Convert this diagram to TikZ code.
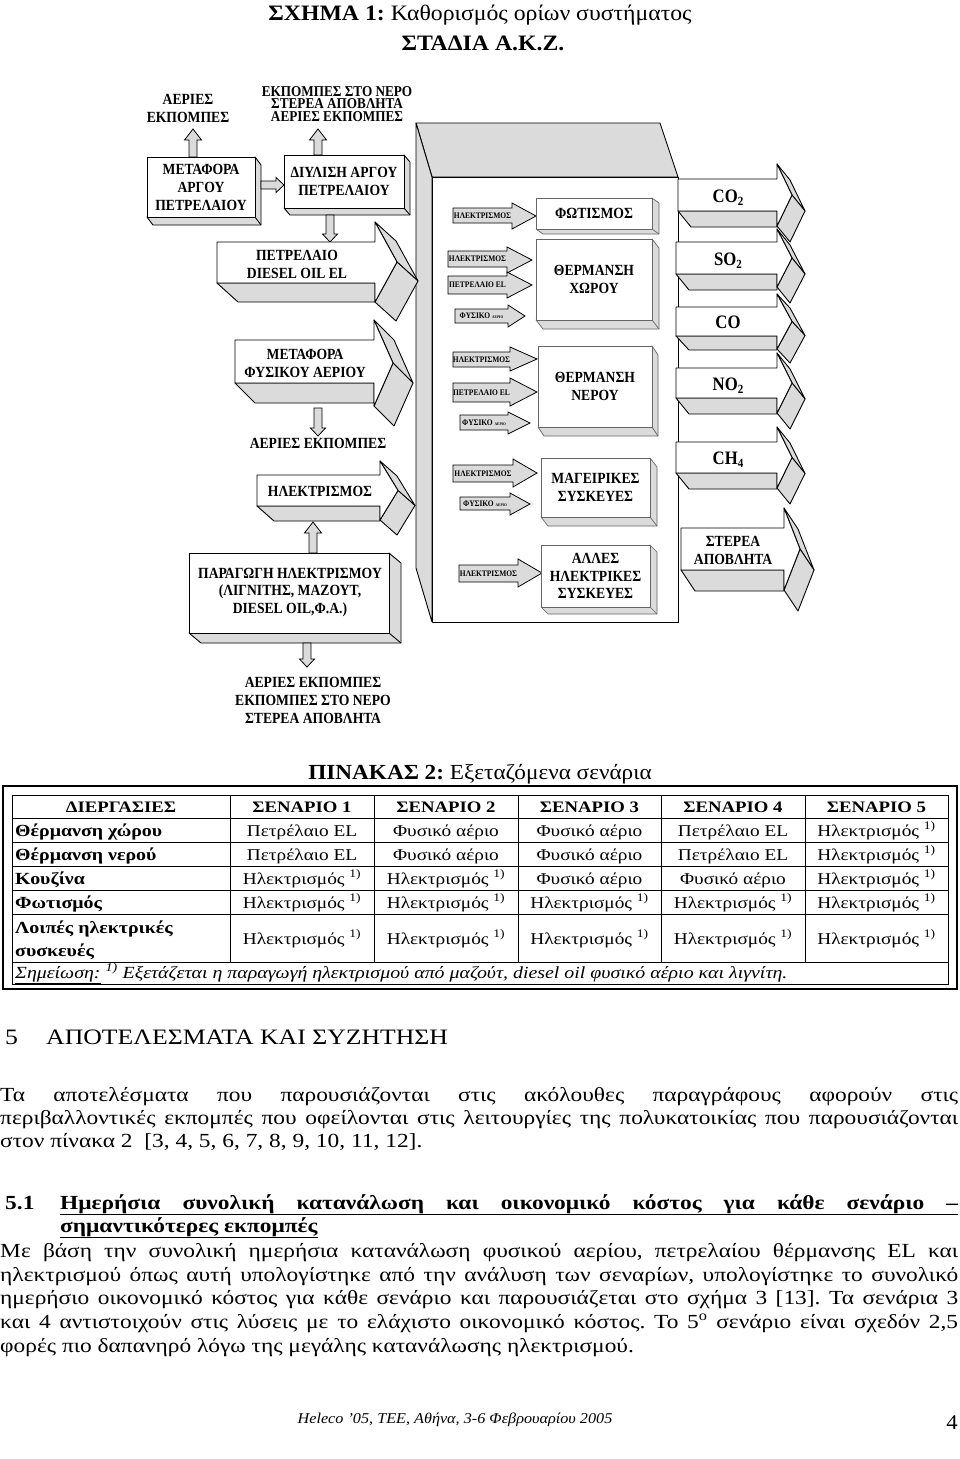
\documentclass[tikz,border=0pt]{standalone}
\usepackage{fontspec}
\setmainfont{Liberation Serif}[FakeStretch=1.08]
\newfontfamily\dgf{Liberation Serif}[FakeStretch=0.88]
\newfontfamily\bodyfam{Liberation Serif}[FakeStretch=1.17]
\frenchspacing
\tikzset{
  sideface/.style={fill=black!14, draw=black, line width=0.9pt, line join=round},
  frontface/.style={fill=white, draw=black, line width=0.9pt, line join=round},
  inface/.style={fill=white, draw=black!60, line width=0.7pt, line join=round},
  insideface/.style={fill=black!14, draw=black!60, line width=0.7pt, line join=round},
  flatarr/.style={fill=black!14, draw=black, line width=0.8pt, line join=miter},
  dlbl/.style={inner sep=0pt, align=center, font=\dgf\bfseries\fontsize{15.5}{18}\selectfont},
  tlbl/.style={inner sep=0pt, font=\dgf\bfseries\fontsize{8.5}{9}\selectfont},
  gas/.style={inner sep=0pt, anchor=base, font=\dgf\bfseries\fontsize{19}{20}\selectfont},
  tline/.style={line width=0.7pt},
  cellf/.style={inner sep=0pt, anchor=base, font=\bodyfam\fontsize{16.5}{19}\selectfont},
  headf/.style={inner sep=0pt, anchor=base, font=\bodyfam\bfseries\fontsize{16}{19}\selectfont},
  rowf/.style={inner sep=0pt, anchor=base west, font=\bodyfam\bfseries\fontsize{17}{19}\selectfont},
  bodyf/.style={inner sep=0pt, anchor=base west, font=\bodyfam\fontsize{20}{23}\selectfont},
  bodyb/.style={inner sep=0pt, anchor=base west, font=\bodyfam\bfseries\fontsize{20}{23}\selectfont},
}
\newcommand\tdbox[8]{%
  \filldraw[#8] (#3,#2) -- ({#3+#5},{#2+#6}) -- ({#3+#5},{#4+#6}) -- ({#1+#5},{#4+#6}) -- (#1,#4) -- (#3,#4) -- cycle;
  \draw[#8] (#3,#4) -- ({#3+#5},{#4+#6});
  \filldraw[#7] (#1,#2) rectangle (#3,#4);}
\newcommand\bigarrow[9]{%
  \pgfmathsetmacro\yc{(#5+#6)/2}%
  \filldraw[sideface] (#1,#3) -- (#4,#3) -- (#4,{#3+#9}) -- ({#1+#8},{#3+#9}) -- cycle;
  \filldraw[sideface] (#4,#5) -- (#7,\yc) -- ({#7+#8},{\yc+#9}) -- ({#4+#8},{#5+#9}) -- cycle;
  \filldraw[sideface] (#7,\yc) -- (#4,#6) -- ({#4+#8},{#6+#9}) -- ({#7+#8},{\yc+#9}) -- cycle;
  \filldraw[frontface] (#1,#2) -- (#4,#2) -- (#4,#5) -- (#7,\yc) -- (#4,#6) -- (#4,#3) -- (#1,#3) -- cycle;}
\newcommand\flatarrow[7]{%
  \filldraw[flatarr] (#1,#2) -- (#4,#2) -- (#4,#5) -- (#7,{(#5+#6)/2}) -- (#4,#6) -- (#4,#3) -- (#1,#3) -- cycle;}
\newcommand\uparr[3]{%
  \filldraw[flatarr] ({#1-4},#2) -- ({#1-4},{#3+11}) -- ({#1-8.5},{#3+11}) -- (#1,#3) -- ({#1+8.5},{#3+11}) -- ({#1+4},{#3+11}) -- ({#1+4},#2) -- cycle;}
\newcommand\downarr[3]{%
  \filldraw[flatarr] ({#1-4},#2) -- ({#1-4},{#3-8}) -- ({#1-7.5},{#3-8}) -- (#1,#3) -- ({#1+7.5},{#3-8}) -- ({#1+4},{#3-8}) -- ({#1+4},#2) -- cycle;}
\newcommand\rightarr[3]{%
  \filldraw[flatarr] (#2,{#1-4}) -- ({#3-8},{#1-4}) -- ({#3-8},{#1-7.5}) -- (#3,#1) -- ({#3-8},{#1+7.5}) -- ({#3-8},{#1+4}) -- (#2,{#1+4}) -- cycle;}
\newcommand\elec{Ηλεκτρισμός \textsuperscript{1)}}
\newcommand\petr{Πετρέλαιο EL}
\newcommand\fys{Φυσικό αέριο}
\newcommand\fysiko{ΦΥΣΙΚΟ {\fontsize{4}{4}\selectfont ΑΕΡΙΟ}}
\newcommand\gsub[1]{\raisebox{-3.5pt}{\fontsize{12.5}{12.5}\selectfont #1}}
\begin{document}
\begin{tikzpicture}[x=1pt,y=-1pt]
\useasboundingbox[fill=white] (0,0) rectangle (960,1459);

% ---------- titles
\node[inner sep=0pt, anchor=base, font=\fontsize{22}{24}\selectfont] (title) at (480,20) {\textbf{ΣΧΗΜΑ 1:} Καθορισμός ορίων συστήματος};
\node[inner sep=0pt, anchor=base, font=\bfseries\fontsize{22}{24}\selectfont] (title2) at (483,50) {ΣΤΑΔΙΑ Α.Κ.Ζ.};

% ---------- central frame
\filldraw[sideface] (416,123) -- (660,123) -- (678,177) -- (432,177) -- cycle;
\filldraw[sideface] (416,123) -- (432,177) -- (432,622) -- (416,568) -- cycle;
\filldraw[frontface] (432,177) rectangle (678,622);

% ---------- top-left boxes
\node[dlbl] (ae1) at (188,108) {ΑΕΡΙΕΣ\\ΕΚΠΟΜΠΕΣ};
\node[dlbl, font=\dgf\bfseries\fontsize{15}{12.5}\selectfont] (ek1) at (337,104) {ΕΚΠΟΜΠΕΣ ΣΤΟ ΝΕΡΟ\\ΣΤΕΡΕΑ ΑΠΟΒΛΗΤΑ\\ΑΕΡΙΕΣ ΕΚΠΟΜΠΕΣ};
\uparr{193}{157}{129}
\uparr{318}{155}{129}
\tdbox{147}{157}{255}{217}{6}{8}{frontface}{sideface}
\node[dlbl] (metargou) at (201,187) {ΜΕΤΑΦΟΡΑ\\ΑΡΓΟΥ\\ΠΕΤΡΕΛΑΙΟΥ};
\rightarr{185}{261}{284}
\tdbox{284}{155}{404}{208}{6}{7}{frontface}{sideface}
\node[dlbl] (diylisi) at (344,181) {ΔΙΥΛΙΣΗ ΑΡΓΟΥ\\ΠΕΤΡΕΛΑΙΟΥ};
\downarr{330}{215}{242}

% ---------- left big arrows
\bigarrow{217}{242}{283}{375}{222}{302}{397}{21}{19}
\node[dlbl] (petrelaio) at (297,264) {ΠΕΤΡΕΛΑΙΟ\\DIESEL OIL EL};
\bigarrow{235}{340}{383}{374}{320}{406}{393}{20}{20}
\node[dlbl] (metfys) at (305,363.5) {ΜΕΤΑΦΟΡΑ\\ΦΥΣΙΚΟΥ ΑΕΡΙΟΥ};
\downarr{318}{408}{436}
\node[dlbl] (ae2) at (318,443) {ΑΕΡΙΕΣ ΕΚΠΟΜΠΕΣ};
\bigarrow{257}{475}{506}{380}{461}{520}{398}{17}{15}
\node[dlbl] (ilektr) at (320,491) {ΗΛΕΚΤΡΙΣΜΟΣ};
\uparr{313}{553}{522}
\tdbox{189}{553}{389}{633}{12}{10}{frontface}{sideface}
\node[dlbl, font=\dgf\bfseries\fontsize{15.5}{17.5}\selectfont] (paragogi) at (290,592.5) {ΠΑΡΑΓΩΓΗ ΗΛΕΚΤΡΙΣΜΟΥ\\(ΛΙΓΝΙΤΗΣ, ΜΑΖΟΥΤ,\\DIESEL OIL,Φ.Α.)};
\downarr{307}{643}{667}
\node[dlbl] (ae3) at (313,700) {ΑΕΡΙΕΣ ΕΚΠΟΜΠΕΣ\\ΕΚΠΟΜΠΕΣ ΣΤΟ ΝΕΡΟ\\ΣΤΕΡΕΑ ΑΠΟΒΛΗΤΑ};

% ---------- inside the frame
\flatarrow{453}{208}{223}{512}{203}{229}{536}
\node[tlbl] (a1) at (482.5,215.5) {ΗΛΕΚΤΡΙΣΜΟΣ};
\tdbox{536}{198}{652}{229}{7}{5}{inface}{insideface}
\node[dlbl] (fotismos) at (594,213.5) {ΦΩΤΙΣΜΟΣ};

\flatarrow{448}{251}{267}{507}{247}{273}{532}
\node[tlbl] (a2) at (477.5,259) {ΗΛΕΚΤΡΙΣΜΟΣ};
\flatarrow{448}{276}{294}{507}{272}{298}{532}
\node[tlbl] (a3) at (477.5,285) {ΠΕΤΡΕΛΑΙΟ EL};
\flatarrow{455}{309}{323}{508}{305}{327}{525}
\node[tlbl] (a4) at (481.5,316) {\fysiko};
\tdbox{536}{239}{652}{320}{7}{9}{inface}{insideface}
\node[dlbl] (thxorou) at (594,279.5) {ΘΕΡΜΑΝΣΗ\\ΧΩΡΟΥ};

\flatarrow{453}{352}{367}{510}{347}{371}{537}
\node[tlbl] (a5) at (481.5,359.5) {ΗΛΕΚΤΡΙΣΜΟΣ};
\flatarrow{453}{383}{402}{510}{378}{406}{537}
\node[tlbl] (a6) at (481.5,392.5) {ΠΕΤΡΕΛΑΙΟ EL};
\flatarrow{460}{415}{430}{508}{412}{434}{530}
\node[tlbl] (a7) at (484,422.5) {\fysiko};
\tdbox{538}{346}{652}{427}{6}{9}{inface}{insideface}
\node[dlbl] (thnerou) at (595,386.5) {ΘΕΡΜΑΝΣΗ\\ΝΕΡΟΥ};

\flatarrow{453}{465}{482}{513}{459}{487}{537}
\node[tlbl] (a8) at (483,473.5) {ΗΛΕΚΤΡΙΣΜΟΣ};
\flatarrow{460}{497}{510}{510}{493}{515}{530}
\node[tlbl] (a9) at (485,503.5) {\fysiko};
\tdbox{541}{458}{650}{517}{7}{9}{inface}{insideface}
\node[dlbl] (mageir) at (595.5,487.5) {ΜΑΓΕΙΡΙΚΕΣ\\ΣΥΣΚΕΥΕΣ};

\flatarrow{459}{565}{582}{518}{559}{587}{542}
\node[tlbl] (a10) at (488.5,573.5) {ΗΛΕΚΤΡΙΣΜΟΣ};
\tdbox{541}{545}{650}{607}{7}{7}{inface}{insideface}
\node[dlbl, font=\dgf\bfseries\fontsize{15.5}{17.5}\selectfont] (alles) at (595.5,576) {ΑΛΛΕΣ\\ΗΛΕΚΤΡΙΚΕΣ\\ΣΥΣΚΕΥΕΣ};

% ---------- right arrows
\bigarrow{678}{179}{211}{777}{164}{226}{792}{13}{16}
\node[gas] (co2) at (728,202) {CO\gsub{2}};
\bigarrow{676}{242}{274}{777}{229}{287}{792}{13}{16}
\node[gas] (so2) at (728,265) {SO\gsub{2}};
\bigarrow{676}{307}{336}{777}{294}{349}{792}{13}{14}
\node[gas] (co) at (728,328) {CO};
\bigarrow{676}{368}{398}{777}{353}{413}{792}{13}{16}
\node[gas] (no2) at (728,390) {NO\gsub{2}};
\bigarrow{676}{442}{473}{777}{427}{488}{792}{13}{16}
\node[gas] (ch4) at (728,464) {CH\gsub{4}};
\bigarrow{681}{528}{570}{784}{508}{590}{800}{14}{21}
\node[dlbl] (sterea) at (733,550.5) {ΣΤΕΡΕΑ\\ΑΠΟΒΛΗΤΑ};

% ---------- table
\node[inner sep=0pt, anchor=base, font=\fontsize{21.5}{24}\selectfont] (ttitle) at (480,779) {\textbf{ΠΙΝΑΚΑΣ 2:} Εξεταζόμενα σενάρια};
\draw[line width=2.2pt] (3,786) rectangle (957,989);
\draw[tline] (12,795) rectangle (948,984);
\foreach \y in {818,842,866,890,914,962} \draw[tline] (12,\y) -- (948,\y);
\foreach \x in {230,374,518,661,805} \draw[tline] (\x,795) -- (\x,962);
\node[headf] (h0) at (121,812) {ΔΙΕΡΓΑΣΙΕΣ};
\foreach \x [count=\i] in {302,446,589.5,733,876.5} \node[headf] (h\i) at (\x,812) {ΣΕΝΑΡΙΟ \i};
\node[rowf] (r1) at (15,836) {Θέρμανση χώρου};
\node[rowf] (r2) at (15,860) {Θέρμανση νερού};
\node[rowf] (r3) at (15,884) {Κουζίνα};
\node[rowf] (r4) at (15,908) {Φωτισμός};
\node[rowf] (r5a) at (15,933) {Λοιπές ηλεκτρικές};
\node[rowf] (r5b) at (15,956) {συσκευές};
\foreach \x/\t [count=\i] in {302/\petr,446/\fys,589.5/\fys,733/\petr,876.5/\elec} \node[cellf] (ca\i) at (\x,836) {\t};
\foreach \x/\t [count=\i] in {302/\petr,446/\fys,589.5/\fys,733/\petr,876.5/\elec} \node[cellf] (cb\i) at (\x,860) {\t};
\foreach \x/\t [count=\i] in {302/\elec,446/\elec,589.5/\fys,733/\fys,876.5/\elec} \node[cellf] (cc\i) at (\x,884) {\t};
\foreach \x [count=\i] in {302,446,589.5,733,876.5} \node[cellf] (cd\i) at (\x,908) {\elec};
\foreach \x [count=\i] in {302,446,589.5,733,876.5} \node[cellf] (ce\i) at (\x,944) {\elec};
\node[inner sep=0pt, anchor=base west, font=\bodyfam\itshape\fontsize{17}{19}\selectfont] (note) at (15,978) {\underline{Σημείωση:} \textsuperscript{1)} Εξετάζεται η παραγωγή ηλεκτρισμού από μαζούτ, diesel oil φυσικό αέριο και λιγνίτη.};

% ---------- text
\node[bodyf, font=\bodyfam\fontsize{22}{26}\selectfont] (s5n) at (5,1044) {5};
\node[bodyf, font=\bodyfam\fontsize{22}{26}\selectfont] (s5t) at (46,1044) {ΑΠΟΤΕΛΕΣΜΑΤΑ ΚΑΙ ΣΥΖΗΤΗΣΗ};
\node[bodyf] (p1a) at (0,1101) {\makebox[958pt][s]{Τα αποτελέσματα που παρουσιάζονται στις ακόλουθες παραγράφους αφορούν στις}};
\node[bodyf] (p1b) at (0,1124) {\makebox[958pt][s]{περιβαλλοντικές εκπομπές που οφείλονται στις λειτουργίες της πολυκατοικίας που παρουσιάζονται}};
\node[bodyf] (p1c) at (0,1147) {στον πίνακα 2\ \ [3, 4, 5, 6, 7, 8, 9, 10, 11, 12].};
\node[bodyb] (s51n) at (5,1209) {5.1};
\node[bodyb] (s51a) at (60,1209) {\underline{\makebox[898pt][s]{Ημερήσια συνολική κατανάλωση και οικονομικό κόστος για κάθε σενάριο –}}};
\node[bodyb] (s51b) at (60,1232) {\underline{σημαντικότερες εκπομπές}};
\node[bodyf] (p2a) at (0,1257) {\makebox[958pt][s]{Με βάση την συνολική ημερήσια κατανάλωση φυσικού αερίου, πετρελαίου θέρμανσης EL και}};
\node[bodyf] (p2b) at (0,1281) {\makebox[958pt][s]{ηλεκτρισμού όπως αυτή υπολογίστηκε από την ανάλυση των σεναρίων, υπολογίστηκε το συνολικό}};
\node[bodyf] (p2c) at (0,1304) {\makebox[958pt][s]{ημερήσιο οικονομικό κόστος για κάθε σενάριο και παρουσιάζεται στο σχήμα 3 [13]. Τα σενάρια 3}};
\node[bodyf] (p2d) at (0,1328) {\makebox[958pt][s]{και 4 αντιστοιχούν στις λύσεις με το ελάχιστο οικονομικό κόστος. Το 5\textsuperscript{ο} σενάριο είναι σχεδόν 2,5}};
\node[bodyf] (p2e) at (0,1352) {φορές πιο δαπανηρό λόγω της μεγάλης κατανάλωσης ηλεκτρισμού.};
\node[inner sep=0pt, anchor=base, font=\itshape\fontsize{15}{17}\selectfont] (footer) at (455,1423) {Heleco ’05, ΤΕΕ, Αθήνα, 3-6 Φεβρουαρίου 2005};
\node[inner sep=0pt, anchor=base, font=\fontsize{21}{23}\selectfont] (pageno) at (952,1429) {4};
\end{tikzpicture}
\end{document}
